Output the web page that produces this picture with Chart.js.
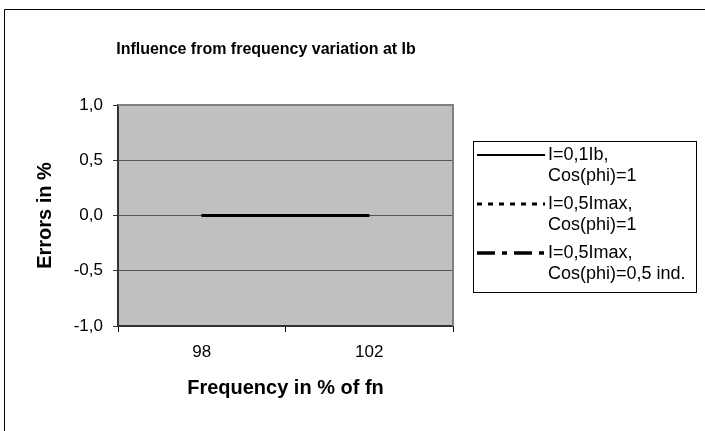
<!DOCTYPE html>
<html>
<head>
<meta charset="utf-8">
<script src="https://cdn.jsdelivr.net/npm/chart.js@4/dist/chart.umd.min.js"></script>
<style>
  html, body { margin: 0; padding: 0; background: #fff; overflow: hidden; }
  #wrap { width: 705px; height: 431px; position: relative; }
</style>
</head>
<body>
<div id="wrap"><canvas id="chart"></canvas></div>
<script>
// data
const categories = ["98", "102"];
const seriesNames = [
  ["I=0,1Ib,", "Cos(phi)=1"],
  ["I=0,5Imax,", "Cos(phi)=1"],
  ["I=0,5Imax,", "Cos(phi)=0,5 ind."]
];
const seriesLow = [0, 0];
const seriesMid = [0, 0];
const seriesInd = [0, 0];
const yTicks = [-1.0, -0.5, 0.0, 0.5, 1.0];

const chartTitle = "Influence from frequency variation at Ib";
const fontFam = "Arial, 'Liberation Sans', sans-serif";

const dashes = [[], [5, 6], [18, 7, 5, 7]];
const legendWidths = [2, 3, 3.5];

// plot background, frame, outer border and title
const frame = {
  id: "frame",
  beforeDraw(chart) {
    const { ctx, chartArea: a } = chart;
    ctx.save();
    ctx.fillStyle = "#fff";
    ctx.fillRect(0, 0, chart.width, chart.height);
    ctx.strokeStyle = "#000";
    ctx.lineWidth = 1;
    ctx.beginPath();
    ctx.moveTo(4.5, chart.height);
    ctx.lineTo(4.5, 9.5);
    ctx.lineTo(chart.width, 9.5);
    ctx.stroke();
    ctx.fillStyle = "#c0c0c0";
    ctx.fillRect(a.left, a.top, a.right - a.left, a.bottom - a.top);
    ctx.fillStyle = "#000";
    ctx.font = "bold 16px " + fontFam;
    ctx.textAlign = "center";
    ctx.textBaseline = "middle";
    ctx.fillText(chartTitle, 266, 50);
    ctx.restore();
  },
  afterDatasetsDraw(chart) {
    const { ctx, chartArea: a } = chart;
    ctx.save();
    ctx.strokeStyle = "#808080";
    ctx.lineWidth = 2;
    ctx.beginPath();
    ctx.moveTo(a.left, a.top);
    ctx.lineTo(a.right, a.top);
    ctx.lineTo(a.right, a.bottom);
    ctx.stroke();
    ctx.restore();
  }
};

// legend with two-line labels in a boxed panel
const boxLegend = {
  id: "boxLegend",
  afterDraw(chart) {
    const { ctx } = chart;
    const x0 = 473, y0 = 141, x1 = 696, y1 = 292;
    ctx.save();
    ctx.fillStyle = "#fff";
    ctx.fillRect(x0, y0, x1 - x0, y1 - y0);
    ctx.strokeStyle = "#000";
    ctx.lineWidth = 1;
    ctx.strokeRect(x0 + 0.5, y0 + 0.5, x1 - x0, y1 - y0);
    ctx.font = "18px " + fontFam;
    ctx.textBaseline = "middle";
    ctx.textAlign = "left";
    chart.data.datasets.forEach((ds, i) => {
      const y = 155 + i * 49;
      ctx.strokeStyle = ds.borderColor;
      ctx.lineWidth = legendWidths[i];
      ctx.setLineDash(ds.borderDash || []);
      ctx.beginPath();
      ctx.moveTo(477, y);
      ctx.lineTo(545, y);
      ctx.stroke();
      ctx.setLineDash([]);
      ctx.fillStyle = "#000";
      seriesNames[i].forEach((t, j) => ctx.fillText(t, 548, y + j * 21));
    });
    ctx.restore();
  }
};

const fmt = v => v.toFixed(1).replace(".", ",");

new Chart(document.getElementById("chart"), {
  type: "line",
  data: {
    labels: categories,
    datasets: [seriesLow, seriesMid, seriesInd].map((d, i) => ({
      label: seriesNames[i].join(" "),
      data: d,
      borderColor: "#000",
      borderWidth: 3,
      borderDash: dashes[i],
      pointRadius: 0,
      fill: false,
      tension: 0
    }))
  },
  options: {
    responsive: true,
    maintainAspectRatio: false,
    animation: false,
    layout: { padding: { top: 105, right: 252, bottom: 0, left: 0 } },
    plugins: {
      legend: { display: false },
      title: { display: false },
      tooltip: { enabled: false }
    },
    scales: {
      x: {
        type: "category",
        offset: true,
        grid: {
          offset: true,
          drawOnChartArea: false,
          color: "#000",
          tickLength: 6,
          tickColor: "#000"
        },
        border: { color: "#333", width: 2 },
        ticks: { color: "#000", font: { family: fontFam, size: 17 }, padding: 10 },
        title: {
          display: true,
          text: "Frequency in % of fn",
          color: "#000",
          font: { family: fontFam, size: 20, weight: "bold" },
          padding: { top: 0, bottom: 31 }
        },
        afterFit(scale) { scale.height = 105; }
      },
      y: {
        min: -1,
        max: 1,
        afterBuildTicks(scale) { scale.ticks = yTicks.map(v => ({ value: v })); },
        grid: {
          color: "#555",
          lineWidth: 1,
          tickLength: 5,
          tickColor: "#333",
          drawTicks: true
        },
        border: { color: "#333", width: 2 },
        ticks: {
          color: "#000",
          font: { family: fontFam, size: 17 },
          padding: 10,
          callback: v => fmt(v)
        },
        title: {
          display: true,
          text: "Errors in %",
          color: "#000",
          font: { family: fontFam, size: 20, weight: "bold" },
          padding: { top: 33, bottom: 0 }
        },
        afterFit(scale) { scale.width = 118; }
      }
    }
  },
  plugins: [frame, boxLegend]
});
</script>
</body>
</html>
